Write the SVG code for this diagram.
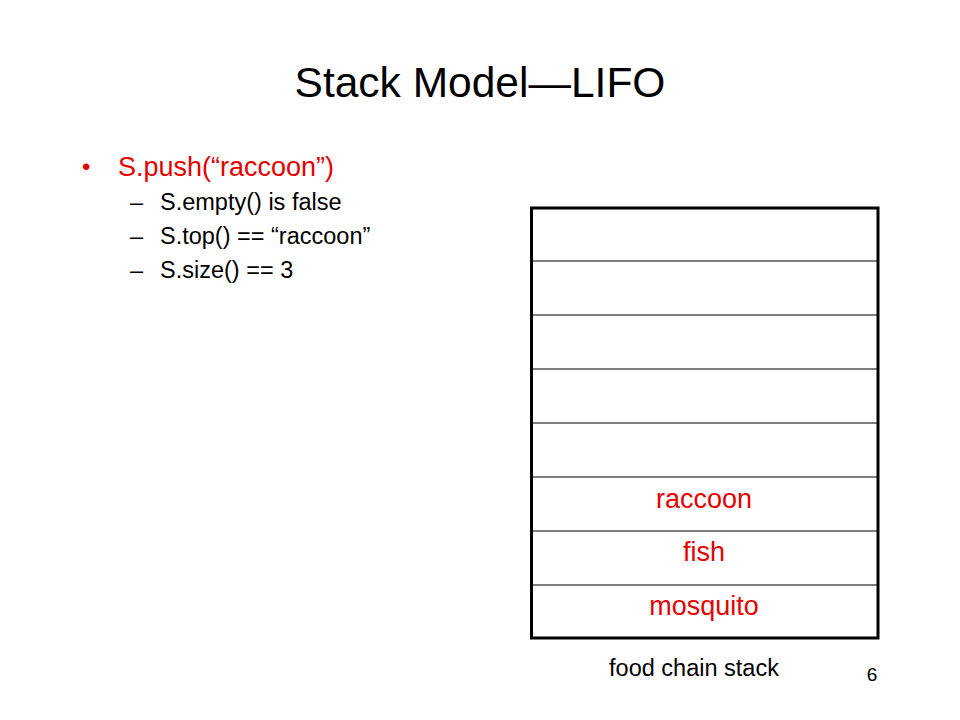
<svg xmlns="http://www.w3.org/2000/svg" width="960" height="720" viewBox="0 0 960 720">
<style>
text{font-family:"Liberation Sans",Arial,sans-serif}
.red{fill:#e60000}
.blk{fill:#000}
.row{stroke:#555;stroke-width:1.5}
.cell{font-size:27px;text-anchor:middle}
.sub{font-size:23.5px}
</style>
<rect width="960" height="720" fill="#fff"/>
<text x="480" y="97" font-size="42.5" text-anchor="middle" class="blk">Stack Model—LIFO</text>
<g id="bullets">
<text x="82" y="175" font-size="24" class="red">•</text>
<text x="118" y="176" font-size="27" class="red">S.push(“raccoon”)</text>
<text x="130" y="210" class="sub blk">–</text>
<text x="160" y="210" class="sub blk">S.empty() is false</text>
<text x="130" y="244" class="sub blk">–</text>
<text x="160" y="244" class="sub blk">S.top() == “raccoon”</text>
<text x="130" y="278" class="sub blk">–</text>
<text x="160" y="278" class="sub blk">S.size() == 3</text>
</g>
<g id="stack">
<g class="row">
<line x1="531" y1="261" x2="879" y2="261"/>
<line x1="531" y1="315" x2="879" y2="315"/>
<line x1="531" y1="369" x2="879" y2="369"/>
<line x1="531" y1="423" x2="879" y2="423"/>
<line x1="531" y1="477" x2="879" y2="477"/>
<line x1="531" y1="531" x2="879" y2="531"/>
<line x1="531" y1="585" x2="879" y2="585"/>
</g>
<rect x="531.5" y="208" width="346.5" height="430" fill="none" stroke="#000" stroke-width="3"/>
<text x="704" y="508" class="cell red">raccoon</text>
<text x="704" y="561" class="cell red">fish</text>
<text x="704" y="615" class="cell red">mosquito</text>
</g>
<text x="694" y="676" font-size="23.5" text-anchor="middle" class="blk">food chain stack</text>
<text x="872" y="681" font-size="19" text-anchor="middle" class="blk">6</text>
</svg>
